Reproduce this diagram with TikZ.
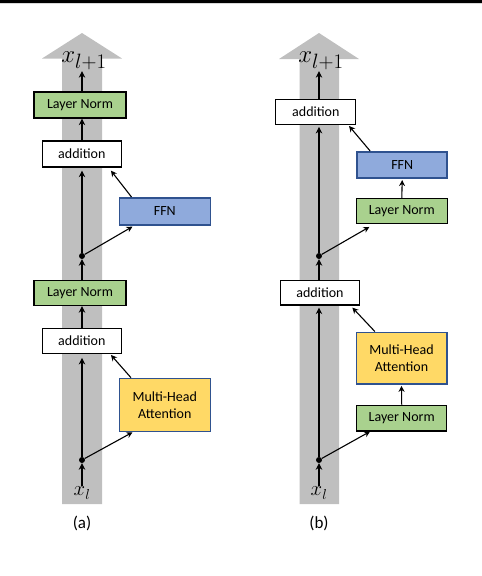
\documentclass[tikz,border=0pt]{standalone}
\usepackage{fontspec}
\newfontfamily\carlito{Carlito}
\usetikzlibrary{arrows.meta}
\definecolor{colgray}{HTML}{BFBFBF}
\definecolor{lngreen}{HTML}{A9D18E}
\definecolor{ffnblue}{HTML}{8FAADC}
\definecolor{mhayellow}{HTML}{FFD966}
\definecolor{edgeblue}{HTML}{2F528F}
\tikzset{
  box/.style={draw=black, line width=1.3pt, inner sep=0pt, align=center,
    font=\carlito\fontsize{14}{17}\selectfont},
  lnbox/.style={box, fill=lngreen},
  addbox/.style={box, fill=white},
  ffnbox/.style={box, fill=ffnblue, draw=edgeblue, line width=1.6pt},
  mhabox/.style={box, fill=mhayellow, draw=edgeblue, line width=1.6pt},
  dotnode/.style={circle, fill=black, minimum size=6pt, inner sep=0pt},
  mainarr/.style={line width=1.7pt, -{Stealth[length=6.5pt,width=6.5pt]}},
  sidearr/.style={line width=1.1pt, -{Stealth[length=6pt,width=6pt]}},
  xlab/.style={inner sep=0pt, font=\Huge},
  xlabsm/.style={inner sep=0pt, font=\huge},
  sublab/.style={inner sep=0pt, font=\carlito\fontsize{17}{20}\selectfont},
}
\begin{document}
\begin{tikzpicture}[x=1pt,y=-1pt]
\useasboundingbox (0,0) rectangle (482,576);
\fill[black] (0,0) rectangle (482,3);
\fill[colgray!60] (0,3) rectangle (482,4);
% gray residual arrows
\fill[colgray] (62,504) -- (62,58.5) -- (42,58.5) -- (82,33) -- (122,58.5) -- (102,58.5) -- (102,504) -- cycle;
\fill[colgray] (299.5,504) -- (299.5,59) -- (279,59) -- (319,33) -- (359,59) -- (339,59) -- (339,504) -- cycle;

% ---------- (a) Post-LN ----------
\node[xlab] (xtA) at (84,61) {$x_{l+1}$};
\node[lnbox, minimum width=92pt, minimum height=26pt] (lnA1) at (80,105) {Layer Norm};
\node[addbox, minimum width=79pt, minimum height=26pt] (addA1) at (81.8,154) {addition};
\node[ffnbox, minimum width=91pt, minimum height=27pt] (ffnA) at (164.8,211.3) {FFN};
\node[dotnode] (dA1) at (82,256) {};
\node[lnbox, minimum width=92pt, minimum height=25pt] (lnA2) at (80,293) {Layer Norm};
\node[addbox, minimum width=79pt, minimum height=25pt] (addA2) at (81.8,340.8) {addition};
\node[mhabox, minimum width=91pt, minimum height=53pt] (mhaA) at (164.8,405) {Multi-Head\\Attention};
\node[dotnode] (dA2) at (82,460) {};
\node[xlabsm] (xbA) at (82,493) {$x_l$};
\node[sublab] (capA) at (82,523) {(a)};

\draw[mainarr] (lnA1.north -| dA1) -- ([yshift=-1pt]xtA.south -| dA1);
\draw[mainarr] (addA1.north -| dA1) -- (lnA1.south -| dA1);
\draw[mainarr] (dA1) -- ([yshift=-3pt]addA1.south -| dA1);
\draw[sidearr] (dA1) -- ([xshift=14pt,yshift=-1pt]ffnA.south west);
\draw[sidearr] ([xshift=13pt]ffnA.north west) -- ([xshift=-11pt,yshift=-3pt]addA1.south east);
\draw[mainarr] (lnA2.north -| dA1) -- (dA1);
\draw[mainarr] (addA2.north -| dA1) -- (lnA2.south -| dA1);
\draw[mainarr] (dA2) -- ([yshift=-4pt]addA2.south -| dA2);
\draw[sidearr] (dA2) -- ([xshift=14pt]mhaA.south west);
\draw[sidearr] ([xshift=12.5pt]mhaA.north west) -- ([xshift=-11pt,yshift=-1pt]addA2.south east);
\draw[mainarr] ([yshift=1pt]xbA.north) -- (dA2);

% ---------- (b) Pre-LN ----------
\node[xlab] (xtB) at (321,61) {$x_{l+1}$};
\node[addbox, minimum width=80pt, minimum height=25pt] (addB1) at (315.8,111.8) {addition};
\node[ffnbox, minimum width=90pt, minimum height=26.5pt] (ffnB) at (402.2,165) {FFN};
\node[lnbox, minimum width=91pt, minimum height=24.6pt] (lnB1) at (401.8,211) {Layer Norm};
\node[dotnode] (dB1) at (319,256) {};
\node[addbox, minimum width=78.6pt, minimum height=24.3pt] (addB2) at (320,292.8) {addition};
\node[mhabox, minimum width=90.4pt, minimum height=51.7pt] (mhaB) at (401.5,358.2) {Multi-Head\\Attention};
\node[lnbox, minimum width=90pt, minimum height=25.7pt] (lnB2) at (401.7,418) {Layer Norm};
\node[dotnode] (dB2) at (319,460) {};
\node[xlabsm] (xbB) at (319,493) {$x_l$};
\node[sublab] (capB) at (319,523) {(b)};

\draw[mainarr] (addB1.north -| dB1) -- ([yshift=-1pt]xtB.south -| dB1);
\draw[mainarr] (dB1) -- ([yshift=-2pt]addB1.south -| dB1);
\draw[sidearr] ([xshift=13.7pt]ffnB.north west) -- ([xshift=-7.4pt,yshift=-1pt]addB1.south east);
\draw[sidearr] (lnB1.north) -- ([yshift=-1pt]ffnB.south);
\draw[sidearr] (dB1) -- ([xshift=13.7pt,yshift=-3pt]lnB1.south west);
\draw[mainarr] (addB2.north -| dB1) -- (dB1);
\draw[mainarr] (dB2) -- ([yshift=-2pt]addB2.south -| dB2);
\draw[sidearr] ([xshift=19.4pt]mhaB.north west) -- ([xshift=-7.6pt,yshift=-2pt]addB2.south east);
\draw[sidearr] (lnB2.north) -- ([yshift=-1pt]mhaB.south);
\draw[sidearr] (dB2) -- ([xshift=14pt]lnB2.south west);
\draw[mainarr] ([yshift=1pt]xbB.north) -- (dB2);
\end{tikzpicture}
\end{document}
